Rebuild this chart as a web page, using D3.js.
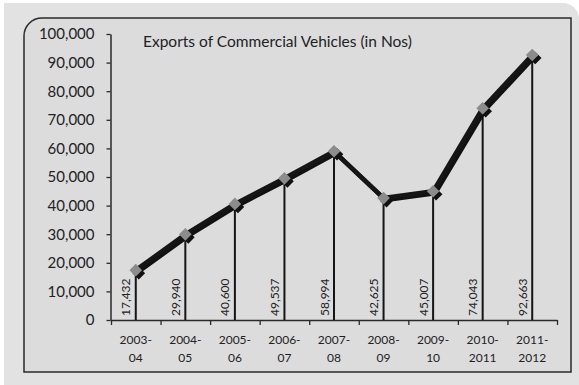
<!DOCTYPE html>
<html>
<head>
<meta charset="utf-8">
<script src="https://cdn.jsdelivr.net/npm/d3@7"></script>
<style>
  html, body { margin: 0; padding: 0; background: #ffffff; }
  svg { display: block; }
  text { font-family: Lato, "Open Sans", sans-serif; fill: #222; }
</style>
</head>
<body>
<svg id="chart" width="579" height="385"></svg>
<script>
// Fiscal years (two-line labels) and number of commercial vehicles exported
const years = ["2003-04", "2004-05", "2005-06", "2006-07", "2007-08", "2008-09", "2009-10", "2010-2011", "2011-2012"];
const exportsNos = [17432, 29940, 40600, 49537, 58994, 42625, 45007, 74043, 92663];
const yTicks = [0, 10000, 20000, 30000, 40000, 50000, 60000, 70000, 80000, 90000, 100000];
const chartTitle = "Exports of Commercial Vehicles (in Nos)";

const svg = d3.select("#chart");

// Outer backdrop with rounded top-right corner
svg.append("path")
  .attr("d", "M4,3 H563 A16,16 0 0 1 579,19 V385 H4 Z")
  .attr("fill", "#e2e2e2");

// Chart panel with rounded top-left corner
svg.append("path")
  .attr("d", "M24,372 V36 A18,18 0 0 1 42,18 H571 V372 Z")
  .attr("fill", "#dcdcdd")
  .attr("stroke", "#2a2a2a")
  .attr("stroke-width", 1.5);

const plot = { left: 111, right: 557, top: 34, bottom: 320 };

const x = d3.scaleBand().domain(years).range([plot.left, plot.right]).padding(0);
const xEdge = d3.scaleLinear().domain([0, years.length]).range([plot.left, plot.right]);
const y = d3.scaleLinear().domain([0, 100000]).range([plot.bottom, plot.top]);
const cx = d => x(d) + x.bandwidth() / 2;

// Y axis
const yAxis = svg.append("g")
  .attr("transform", `translate(${plot.left - 0.5},0)`)
  .call(d3.axisLeft(y).tickValues(yTicks).tickSizeInner(4).tickSizeOuter(0)
        .tickPadding(12).tickFormat(d3.format(",")));
yAxis.select(".domain").attr("stroke", "#2a2a2a").attr("stroke-width", 1.5);
yAxis.selectAll(".tick line").attr("stroke", "#2a2a2a").attr("stroke-width", 1.3);
yAxis.selectAll(".tick text").style("font-size", "15px").attr("fill", "#222");

// X axis: ticks on category boundaries
const xAxis = svg.append("g")
  .attr("transform", `translate(0,${plot.bottom})`)
  .call(d3.axisBottom(xEdge).tickValues(d3.range(years.length + 1))
        .tickSizeInner(5).tickSizeOuter(0).tickFormat(""));
xAxis.select(".domain").attr("stroke", "#2a2a2a").attr("stroke-width", 1.5);
xAxis.selectAll(".tick line").attr("stroke", "#2a2a2a").attr("stroke-width", 1.3);

// Category labels split over two lines at the hyphen
const catLabels = svg.append("g");
years.forEach(yr => {
  const parts = yr.split("-");
  const t = catLabels.append("text")
    .attr("text-anchor", "middle")
    .style("font-size", "12px");
  t.append("tspan").attr("x", cx(yr)).attr("y", 344).text(parts[0] + "-");
  t.append("tspan").attr("x", cx(yr)).attr("y", 362).text(parts[1]);
});

// Drop lines from each point to the axis
svg.append("g").selectAll("line")
  .data(years)
  .join("line")
  .attr("x1", d => cx(d)).attr("x2", d => cx(d))
  .attr("y1", (d, i) => y(exportsNos[i]))
  .attr("y2", plot.bottom)
  .attr("stroke", "#151515")
  .attr("stroke-width", 2);

// Value labels, rotated, beside the drop lines
svg.append("g").selectAll("text")
  .data(years)
  .join("text")
  .attr("transform", d => `translate(${cx(d) - 10},${plot.bottom - 4}) rotate(-90)`)
  .attr("dominant-baseline", "central")
  .style("font-size", "12px")
  .text((d, i) => d3.format(",")(exportsNos[i]));

// Series line with a soft drop shadow
const line = d3.line().x((d, i) => cx(years[i])).y(d => y(d));
svg.append("path")
  .datum(exportsNos)
  .attr("d", line)
  .attr("transform", "translate(2,2)")
  .attr("fill", "none")
  .attr("stroke", "#111")
  .attr("stroke-width", 4.5)
  .attr("stroke-linejoin", "round");
svg.append("path")
  .datum(exportsNos)
  .attr("d", line)
  .attr("fill", "none")
  .attr("stroke", "#151515")
  .attr("stroke-width", 4.5)
  .attr("stroke-linejoin", "round");

// Diamond markers with black shadow
const diamond = d3.symbol().type(d3.symbolSquare).size(80);
const markers = svg.append("g");
markers.selectAll("path.shadow")
  .data(exportsNos)
  .join("path")
  .attr("class", "shadow")
  .attr("d", diamond)
  .attr("transform", (d, i) => `translate(${cx(years[i]) + 3},${y(d) + 3}) rotate(45)`)
  .attr("fill", "#111");
markers.selectAll("path.mark")
  .data(exportsNos)
  .join("path")
  .attr("class", "mark")
  .attr("d", diamond)
  .attr("transform", (d, i) => `translate(${cx(years[i])},${y(d)}) rotate(45)`)
  .attr("fill", "#8c8c8c");

// Title inside the plot
svg.append("text")
  .attr("x", 143)
  .attr("y", 47)
  .style("font-size", "15.5px")
  .text(chartTitle);
</script>
</body>
</html>
